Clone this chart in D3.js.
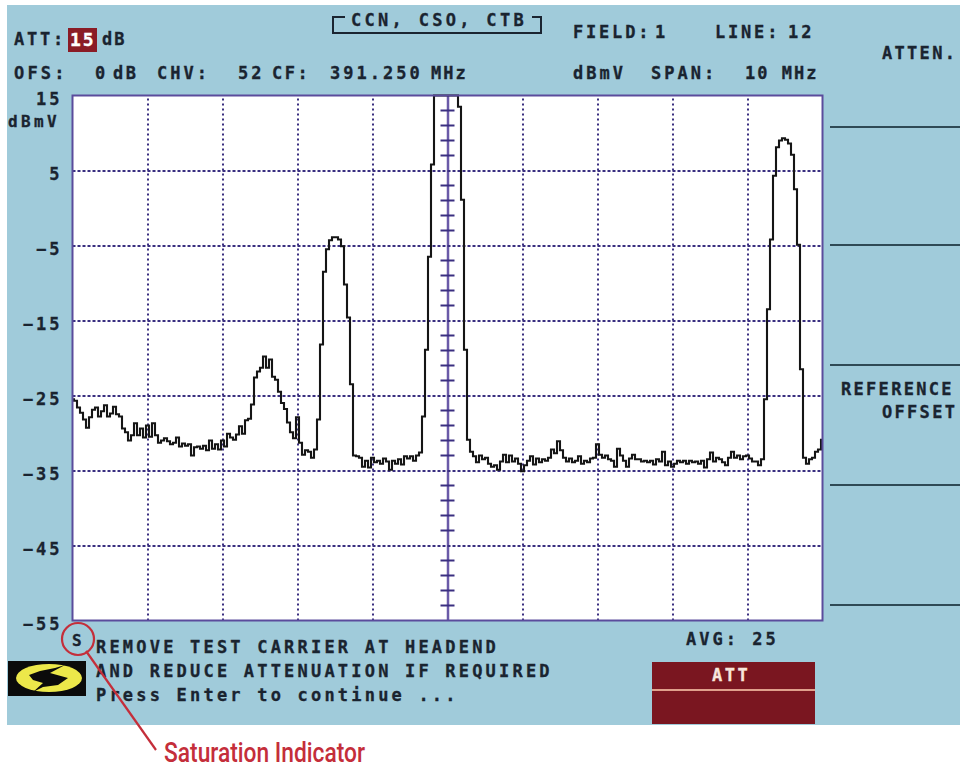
<!DOCTYPE html>
<html>
<head>
<meta charset="utf-8">
<script src="https://cdn.jsdelivr.net/npm/d3@7"></script>
<style>
  html, body { margin: 0; padding: 0; background: #fff; }
  svg { display: block; }
  .crt { font-family: "DejaVu Sans Mono", monospace; font-weight: bold; fill: #1a2430; stroke: #1a2430; stroke-width: 0.3px; }
</style>
</head>
<body>
<svg class="chart"></svg>
<script>
// Y axis labels (dBmV)
var levelTicks = [15, 5, -5, -15, -25, -35, -45, -55];
// Sweep settings
var centerFreq = 391.25;
var spanMHz = 10;
// Trace, dBmV per sweep step across the span
var traceLevels = [
  -25.5,-25.7,-26.6,-27.3,-28.2,-29.3,-27.9,-26.9,-26.6,-27.8,-27.1,-26.3,-27.8,-27.4,-26.5,-27.5,-27.8,-29.4,-29.9,-31.0,
  -30.3,-28.7,-30.3,-29.4,-30.6,-29.0,-30.5,-28.7,-30.3,-31.3,-31.0,-30.7,-31.1,-31.5,-31.3,-30.6,-31.8,-31.4,-31.7,-31.5,
  -33.0,-31.9,-31.8,-32.1,-31.7,-32.3,-31.0,-32.1,-31.5,-32.2,-31.0,-31.8,-30.1,-30.6,-30.9,-30.2,-29.1,-30.1,-28.3,-28.1,
  -26.2,-22.6,-21.8,-21.3,-19.8,-21.3,-20.2,-22.5,-22.9,-24.5,-26.0,-26.8,-28.6,-29.9,-30.7,-27.9,-31.3,-32.9,-32.3,-32.5,
  -33.3,-32.2,-28.2,-18.2,-8.5,-5.5,-4.3,-3.9,-3.9,-4.2,-5.1,-10.2,-14.6,-23.5,-33.0,-33.1,-33.3,-34.5,-33.7,-34.6,
  -33.3,-33.9,-33.7,-34.1,-33.4,-33.8,-34.9,-33.7,-34.1,-33.5,-34.2,-33.1,-33.4,-33.1,-33.7,-33.0,-32.6,-27.8,-18.9,-6.5,
  5.8,15,15,15,15,15,15,15,15,13.5,1.1,-18.9,-30.9,-32.5,-33.1,-33.9,-33.0,-33.5,-33.3,-34.1,
  -34.5,-34.3,-34.9,-33.8,-32.9,-33.9,-33.0,-33.8,-33.4,-34.1,-35.1,-34.3,-33.7,-33.1,-34.2,-33.4,-33.9,-33.5,-33.7,-33.3,
  -32.2,-32.7,-31.1,-32.3,-33.3,-33.8,-33.4,-33.9,-33.7,-33.1,-34.1,-33.7,-33.9,-33.4,-33.3,-31.5,-32.9,-33.3,-33.0,-33.5,
  -33.7,-34.5,-32.1,-33.0,-33.7,-34.5,-33.4,-32.9,-33.5,-33.5,-33.8,-33.7,-33.9,-33.7,-34.2,-33.5,-33.8,-32.5,-34.3,-33.8,
  -34.5,-34.1,-33.7,-33.9,-33.7,-34.1,-33.7,-33.9,-33.8,-34.1,-33.7,-34.6,-33.5,-32.6,-33.8,-33.3,-33.5,-33.9,-34.3,-33.3,
  -32.5,-33.3,-33.0,-33.5,-33.1,-33.0,-33.4,-33.8,-33.8,-34.3,-33.5,-25.5,-13.5,-4.2,4.3,8.1,9.0,9.3,9.1,8.6,
  7.1,2.5,-4.9,-21.5,-33.3,-34.1,-33.5,-33.3,-32.5,-32.2,-30.9
];
// Screen text
var messageLines = ["REMOVE TEST CARRIER AT HEADEND", "AND REDUCE ATTENUATION IF REQUIRED", "Press Enter to continue ..."];
var softKeyRules = [127, 245, 365, 485, 605];

const width = 960;
const height = 770;
const plotLeft = 72.5;
const plotRight = 822.5;
const plotTop = 95.5;
const plotBottom = 620.5;

var svg = d3.select(".chart").attr("width", width).attr("height", height);

// Instrument screen background
svg.append("rect").attr("x", 7).attr("y", 5).attr("width", width - 7).attr("height", 720).attr("fill", "#a0cbda");
svg.append("rect").attr("x", plotLeft).attr("y", plotTop).attr("width", plotRight - plotLeft).attr("height", plotBottom - plotTop).attr("fill", "#fff");

var startFreq = centerFreq - spanMHz / 2;
var x = d3.scaleLinear().domain([startFreq, startFreq + spanMHz]).range([plotLeft, plotRight]);
var y = d3.scaleLinear().domain([-55, 15]).range([plotBottom, plotTop]);

/******** Grid ********/
var xGrid = svg.append("g")
    .attr("transform", `translate(0,${plotBottom})`)
    .call(d3.axisBottom(x).tickValues(d3.range(1, 10).map(d => startFreq + d)).tickSize(-(plotBottom - plotTop)).tickFormat(""));
xGrid.select(".domain").remove();
xGrid.selectAll("line")
    .attr("stroke", d => d === centerFreq ? "#6a5aa8" : "#3a2f80")
    .attr("stroke-width", d => d === centerFreq ? 2.5 : 2)
    .attr("stroke-dasharray", d => d === centerFreq ? null : "2 3");

var yGrid = svg.append("g")
    .attr("transform", `translate(${plotLeft},0)`)
    .call(d3.axisRight(y).tickValues(levelTicks.slice(1, -1)).tickSize(plotRight - plotLeft).tickFormat(""));
yGrid.select(".domain").remove();
yGrid.selectAll("line")
    .attr("stroke", "#3a2f80")
    .attr("stroke-width", 2)
    .attr("stroke-dasharray", "3 2");

// Cross marks on the center line, every 2 dB
var centerMarks = d3.range(-55, 15, 2).filter(d => (d + 55) % 10 !== 0);
svg.append("g").selectAll("line")
    .data(centerMarks)
    .enter()
    .append("line")
    .attr("x1", x(centerFreq) - 7)
    .attr("x2", x(centerFreq) + 7)
    .attr("y1", d => y(d))
    .attr("y2", d => y(d))
    .attr("stroke", "#3a2f80")
    .attr("stroke-width", 2);

/******** Trace ********/
var traceLine = d3.line()
    .x((d, i) => x(startFreq + i * spanMHz / (traceLevels.length - 1)))
    .y(d => y(d))
    .curve(d3.curveStep);

svg.append("path")
    .attr("d", traceLine(traceLevels))
    .attr("fill", "none")
    .attr("stroke", "#151515")
    .attr("stroke-width", 2.1);

// Plot border
svg.append("rect").attr("x", plotLeft).attr("y", plotTop).attr("width", plotRight - plotLeft).attr("height", plotBottom - plotTop)
    .attr("fill", "none").attr("stroke", "#5b4c9c").attr("stroke-width", 2);

/******** Y axis labels ********/
var yAxis = svg.append("g")
    .attr("transform", `translate(${plotLeft},0)`)
    .call(d3.axisLeft(y).tickValues(levelTicks).tickSize(0).tickPadding(10).tickFormat(d => String(d).replace("-", "\u2212")));
yAxis.select(".domain").remove();
yAxis.selectAll("text")
    .attr("class", "crt")
    .attr("dy", "0.55em")
    .style("font-size", "17px")
    .style("letter-spacing", "3px");

/******** Header and other screen text ********/
function crtText(str, px, py, size, spacing, color) {
    var t = svg.append("text")
        .attr("class", "crt")
        .attr("x", px)
        .attr("y", py)
        .style("font-size", size + "px")
        .style("letter-spacing", spacing + "px")
        .text(str);
    if (color) t.style("fill", color).style("stroke", color);
    return t;
}

crtText("dBmV", 8, 127, 16, 3.4);
crtText("ATT:", 14, 45, 17, 2.8);
svg.append("rect").attr("x", 68).attr("y", 28).attr("width", 29).attr("height", 24).attr("fill", "#8a1c26");
crtText("15", 70, 46, 18, 2, "#fff");
crtText("dB", 102, 45, 17, 2);
crtText("OFS:", 14, 79, 17, 3.2);
crtText("0", 95, 79, 17, 0);
crtText("dB", 113, 79, 17, 2.5);
crtText("CHV:", 157, 79, 17, 3);
crtText("52", 238, 79, 17, 3);
crtText("CF:", 272, 79, 17, 2.5);
crtText("391.250", 330, 79, 17, 3);
crtText("MHz", 431, 79, 17, 2);
crtText("FIELD:", 573, 38, 17, 2.8);
crtText("1", 655, 38, 17, 0);
crtText("LINE:", 715, 38, 17, 2.8);
crtText("12", 788, 38, 17, 3);
crtText("dBmV", 573, 79, 17, 3);
crtText("SPAN:", 651, 79, 17, 3);
crtText("10 MHz", 745, 79, 17, 2);
crtText("CCN, CSO, CTB", 351, 26, 17, 3.3);
crtText("ATTEN.", 882, 59, 17, 2.3);
crtText("REFERENCE", 841, 395, 17, 2.3);
crtText("OFFSET", 882, 418, 17, 2.3);
crtText("AVG: 25", 686, 645, 17, 3);

// Bracket round the mode title
svg.append("path")
    .attr("d", "M345,17H333V33H541V17H532")
    .attr("fill", "none")
    .attr("stroke", "#1a2430")
    .attr("stroke-width", 2);

// Soft key separators
svg.append("g").selectAll("line")
    .data(softKeyRules)
    .enter()
    .append("line")
    .attr("x1", 830)
    .attr("x2", width)
    .attr("y1", d => d)
    .attr("y2", d => d)
    .attr("stroke", "#2f4a55")
    .attr("stroke-width", 2);

/******** Message area ********/
svg.append("g").selectAll("text")
    .data(messageLines)
    .enter()
    .append("text")
    .attr("class", "crt")
    .attr("x", 96)
    .attr("y", (d, i) => 653 + i * 24)
    .style("font-size", "17px")
    .style("letter-spacing", "3.2px")
    .text(d => d);

crtText("S", 72, 646, 16, 0);

// Logo
svg.append("rect").attr("x", 8).attr("y", 661).attr("width", 78).attr("height", 35).attr("fill", "#0b0b0b");
svg.append("ellipse").attr("cx", 49).attr("cy", 678).attr("rx", 33).attr("ry", 14).attr("fill", "#ece84a");
svg.append("path")
    .attr("d", "M29,675 L40,671 L55,668 L65,665 L50,673 L68,678 L58,685 L43,687 L33,692 L43,683 L33,680 Z")
    .attr("fill", "#0b0b0b");

// ATT soft key
svg.append("rect").attr("x", 652).attr("y", 662).attr("width", 163).attr("height", 62).attr("fill", "#7a1620");
svg.append("line").attr("x1", 652).attr("x2", 815).attr("y1", 690).attr("y2", 690).attr("stroke", "#e0a08c").attr("stroke-width", 2);
crtText("ATT", 712, 681, 17, 2.5, "#f7e6dc");

/******** Saturation callout ********/
svg.append("circle").attr("cx", 78).attr("cy", 639).attr("r", 16)
    .attr("fill", "none").attr("stroke", "#c42e3a").attr("stroke-width", 2.2);
svg.append("line").attr("x1", 86).attr("y1", 651).attr("x2", 156).attr("y2", 750)
    .attr("stroke", "#c42e3a").attr("stroke-width", 2.2);
svg.append("text")
    .attr("x", 164)
    .attr("y", 762)
    .attr("textLength", 201)
    .attr("lengthAdjust", "spacingAndGlyphs")
    .style("font-family", "Roboto, sans-serif")
    .style("font-weight", "500")
    .style("font-size", "27px")
    .style("fill", "#c42e3a")
    .text("Saturation Indicator");
</script>
</body>
</html>
